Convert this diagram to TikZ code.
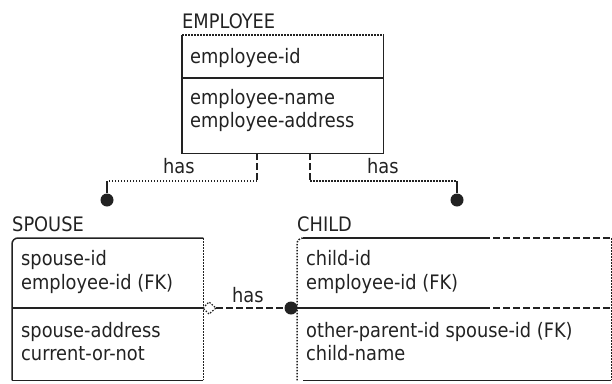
\documentclass[tikz,border=0pt]{standalone}
\usepackage{fontspec}
\usepackage{graphicx}
\setmainfont{DejaVu Sans}
\definecolor{ink}{HTML}{222222}
\newcommand{\tall}[1]{\scalebox{1}[1.12]{#1}}
\begin{document}
\begin{tikzpicture}[x=1pt,y=-1pt,
  font=\fontsize{17.8}{22}\selectfont,
  every node/.style={text=ink, inner sep=0pt},
  ent/.style={draw=none, anchor=north west},
  txt/.style={anchor=base west},
  rel/.style={anchor=base west},
  edge/.style={draw=ink, line width=1.5pt},
  thin edge/.style={draw=ink, line width=1.2pt},
  dotline/.style={draw=ink, line width=1.5pt, dash pattern=on 1.5pt off 1.5pt},
  dashline/.style={draw=ink, line width=1.5pt, dash pattern=on 7pt off 3pt},
  dot/.style={circle, fill=ink, minimum size=13pt}]
\useasboundingbox (0,0) rectangle (612,383);

% ---------- EMPLOYEE ----------
\node[txt] (empT) at (182,28) {\tall{EMPLOYEE}};
\node[ent, minimum width=201pt, minimum height=118pt] (emp) at (182,35) {};
\draw[dotline] (emp.north west) -- (emp.north east);
\draw[edge] (emp.north east) -- (emp.south east) -- (emp.south west) -- (emp.north west);
\coordinate (empSL) at (182,78);
\coordinate (empSR) at (383,78);
\draw[edge] (empSL) -- (empSR);
\node[txt] (e1) at (190,63) {\tall{employee-id}};
\node[txt] (e2) at (190,104) {\tall{employee-name}};
\node[txt] (e3) at (190,127) {\tall{employee-address}};

% ---------- SPOUSE ----------
\node[txt] (spT) at (12,231) {\tall{SPOUSE}};
\node[ent, minimum width=191pt, minimum height=142pt] (sp) at (12,238) {};
\draw[edge, rounded corners=6pt] (sp.south west) -- (sp.north west) -- (sp.north east);
\draw[dotline, rounded corners=6pt] (sp.north east) -- (sp.south east);
\draw[thin edge, rounded corners=6pt] (sp.south east) -- (sp.south west);
\coordinate (spSL) at (12,308);
\coordinate (spSR) at (203,308);
\draw[edge] (spSL) -- (spSR);
\node[txt] (s1) at (21,265) {\tall{spouse-id}};
\node[txt] (s2) at (21,289) {\tall{employee-id (FK)}};
\node[txt] (s3) at (21,337) {\tall{spouse-address}};
\node[txt] (s4) at (21,360) {\tall{current-or-not}};

% ---------- CHILD ----------
\node[txt] (chT) at (297,231) {\tall{CHILD}};
\node[ent, minimum width=314pt, minimum height=142pt] (ch) at (297,238) {};
\coordinate (chTM) at (483,238);
\coordinate (chSL) at (297,308);
\coordinate (chSM) at (483,308);
\coordinate (chSR) at (611,308);
\draw[dotline, rounded corners=6pt] (ch.south west) -- (ch.north west) -- (chTM);
\draw[edge] ([xshift=6pt]ch.north west) -- (chTM);
\draw[dashline] (chTM) -- (ch.north east);
\draw[dotline] (ch.north east) -- (ch.south east);
\draw[thin edge] ([xshift=6pt]ch.south west) -- (ch.south east);
\draw[edge] (chSL) -- (chSM);
\draw[dashline] (chSM) -- (chSR);
\node[txt] (c1) at (306,265) {\tall{child-id}};
\node[txt] (c2) at (306,289) {\tall{employee-id (FK)}};
\node[txt] (c3) at (306,337) {\tall{other-parent-id spouse-id (FK)}};
\node[txt] (c4) at (306,360) {\tall{child-name}};

% ---------- EMPLOYEE -- SPOUSE ----------
\coordinate (r1a) at (257,153);
\coordinate (r1b) at (257,181);
\coordinate (r1c) at (107,181);
\node[dot] (d1) at (107,200) {};
\draw[dashline] (r1a) -- (r1b);
\draw[dotline] (r1b) -- (r1c);
\draw[edge] (r1c) -- (d1);
\node[rel] (h1) at (163,173) {\tall{has}};

% ---------- EMPLOYEE -- CHILD ----------
\coordinate (r2a) at (310,153);
\coordinate (r2b) at (310,181);
\coordinate (r2c) at (457,181);
\node[dot] (d2) at (457,200) {};
\draw[dashline] (r2a) -- (r2b);
\draw[dotline] (r2b) -- (r2c);
\draw[edge] (r2c) -- (d2);
\node[rel] (h2) at (367,173) {\tall{has}};

% ---------- SPOUSE -- CHILD ----------
\coordinate (dmW) at (203,308);
\coordinate (dmN) at (209,302);
\coordinate (dmE) at (216,308);
\coordinate (dmS) at (209,314);
\draw[dotline, line width=1.2pt] (dmW) -- (dmN) -- (dmE) -- (dmS) -- cycle;
\node[dot] (d3) at (291,308) {};
\draw[dashline] (dmE) -- (d3);
\node[rel] (h3) at (232,302) {\tall{has}};
\end{tikzpicture}
\end{document}
